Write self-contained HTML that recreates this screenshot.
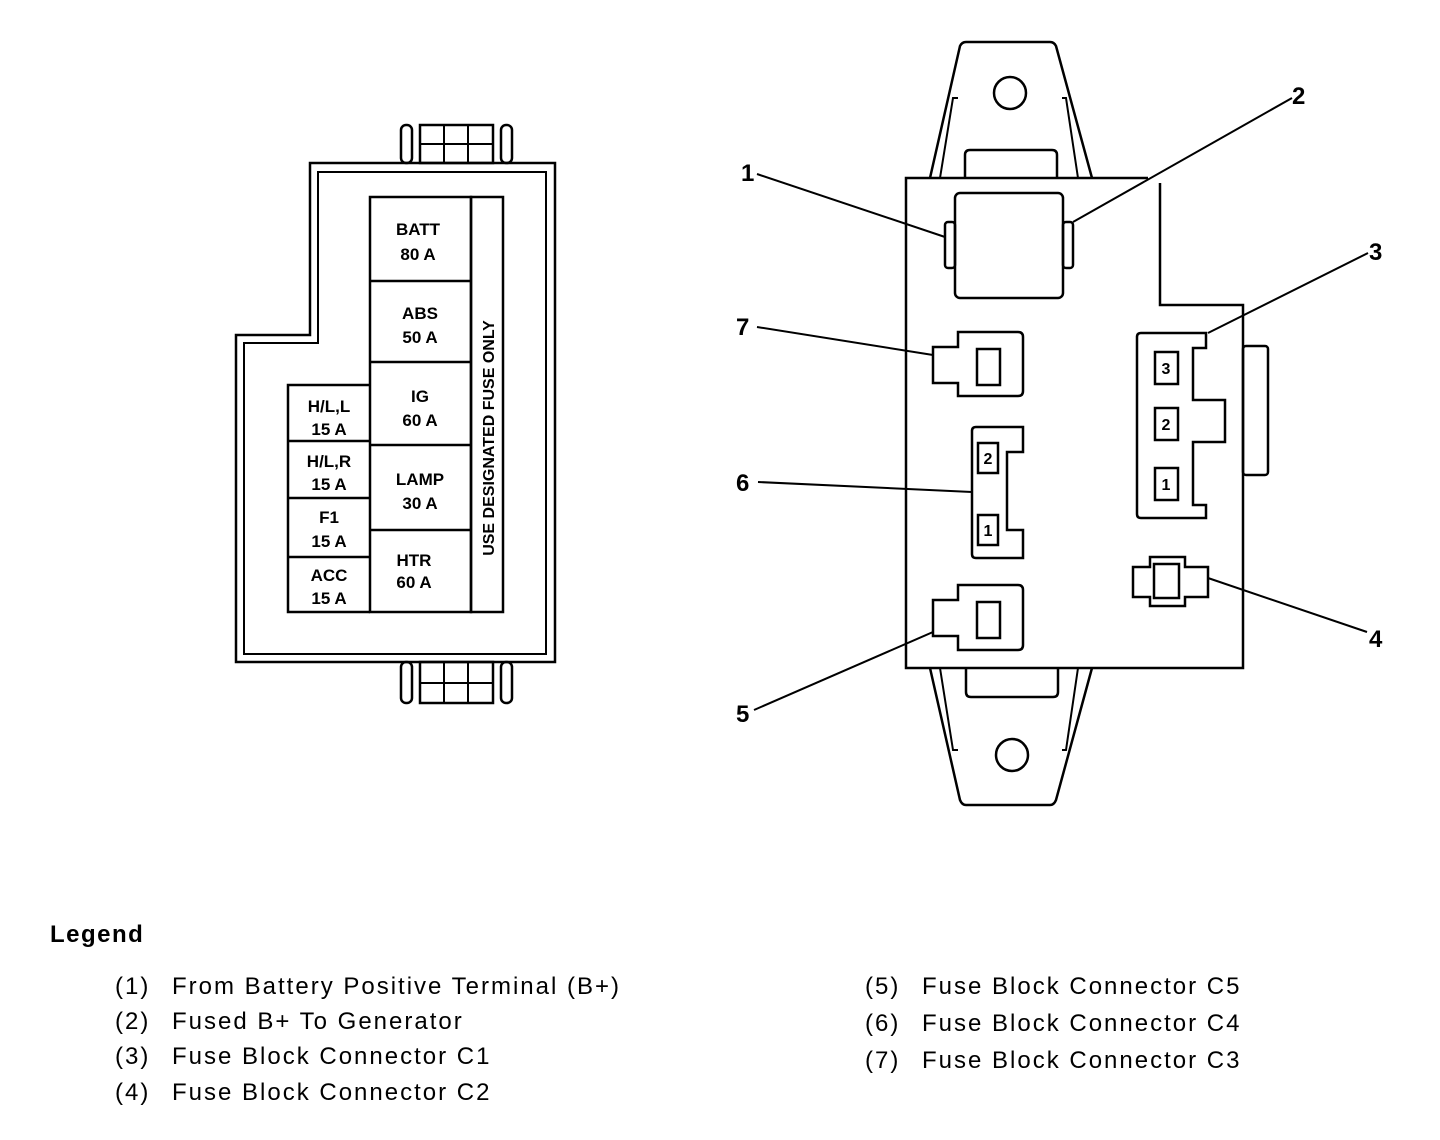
<!DOCTYPE html>
<html><head><style>
body{margin:0;background:#fff}
svg{display:block}
text{font-family:"Liberation Sans",Arial,sans-serif;fill:#000}
.f{font-weight:bold;font-size:17px;text-anchor:middle}
.l{font-size:24px;letter-spacing:2px}
</style></head><body>
<svg width="1440" height="1140" viewBox="0 0 1440 1140" xmlns="http://www.w3.org/2000/svg">
<g fill="none" stroke="#000" stroke-width="2.5">
<!-- left fuse block -->
<path d="M310 163H555V662H236V335H310Z"/>
<path d="M318 172H546V654H244V343H318Z" stroke-width="2"/>
<rect x="401" y="125" width="11" height="38" rx="5"/>
<rect x="501" y="125" width="11" height="38" rx="5"/>
<rect x="420" y="125" width="73" height="38"/>
<path d="M444 125V163M468 125V163M420 144H493" stroke-width="2"/>
<rect x="401" y="662" width="11" height="41" rx="5"/>
<rect x="501" y="662" width="11" height="41" rx="5"/>
<rect x="420" y="662" width="73" height="41"/>
<path d="M444 662V703M468 662V703M420 683H493" stroke-width="2"/>
<rect x="370" y="197" width="101" height="415"/>
<rect x="471" y="197" width="32" height="415"/>
<path d="M370 281H471M370 362H471M370 445H471M370 530H471"/>
<path d="M370 385H288V612H370M288 441H370M288 498H370M288 557H370"/>
</g>
<g class="f">
<text x="418" y="235">BATT</text><text x="418" y="260">80 A</text>
<text x="420" y="319">ABS</text><text x="420" y="343">50 A</text>
<text x="420" y="402">IG</text><text x="420" y="426">60 A</text>
<text x="420" y="485">LAMP</text><text x="420" y="509">30 A</text>
<text x="414" y="566">HTR</text><text x="414" y="588">60 A</text>
<text x="329" y="412">H/L,L</text><text x="329" y="435">15 A</text>
<text x="329" y="467">H/L,R</text><text x="329" y="490">15 A</text>
<text x="329" y="523">F1</text><text x="329" y="547">15 A</text>
<text x="329" y="581">ACC</text><text x="329" y="604">15 A</text>
<text transform="translate(494,438) rotate(-90)" font-size="16">USE DESIGNATED FUSE ONLY</text>
</g>
<!-- right fuse block -->
<g fill="none" stroke="#000" stroke-width="2.5">
<path d="M930 178L960 46Q962 42 966 42H1050Q1054 42 1056 46L1092 178"/>
<path d="M940 178L953 98H958M1078 178L1066 98H1062" stroke-width="2"/>
<ellipse cx="1010" cy="93" rx="16" ry="16"/>
<path d="M965 178V155Q965 150 970 150H1052Q1057 150 1057 155V178"/>
<path d="M930 668L960 800Q962 805 966 805H1050Q1054 805 1056 800L1092 668"/>
<path d="M940 668L953 750H958M1078 668L1066 750H1062" stroke-width="2"/>
<ellipse cx="1012" cy="755" rx="16" ry="16"/>
<path d="M966 668V692Q966 697 971 697H1053Q1058 697 1058 692V668"/>
<path d="M1148 178H906V668H1243V305H1160V183"/>
<rect x="1243" y="346" width="25" height="129" rx="3"/>
<rect x="955" y="193" width="108" height="105" rx="5"/>
<rect x="945" y="222" width="10" height="46" rx="3"/>
<rect x="1063" y="222" width="10" height="46" rx="3"/>
<path d="M958 332H1018Q1023 332 1023 337V391Q1023 396 1018 396H958V383H933V347H958Z"/>
<rect x="977" y="349" width="23" height="36"/>
<path d="M958 585H1018Q1023 585 1023 590V645Q1023 650 1018 650H958V636H933V600H958Z"/>
<rect x="977" y="602" width="23" height="36"/>
<path d="M976 427H1023V452H1007V530H1023V558H976Q972 558 972 554V431Q972 427 976 427Z"/>
<rect x="978" y="443" width="20" height="30"/>
<rect x="978" y="515" width="20" height="30"/>
<path d="M1141 333H1206V348H1193V400H1225V442H1193V505H1206V518H1141Q1137 518 1137 514V337Q1137 333 1141 333Z"/>
<rect x="1155" y="352" width="23" height="32"/>
<rect x="1155" y="408" width="23" height="32"/>
<rect x="1155" y="468" width="23" height="32"/>
<path d="M1150 557H1185V567H1208V597H1185V606H1150V597H1133V567H1150Z"/>
<rect x="1154" y="564" width="25" height="34"/>
</g>
<g stroke="#000" stroke-width="2">
<line x1="757" y1="174" x2="945" y2="237"/>
<line x1="1292" y1="98" x2="1073" y2="222"/>
<line x1="1368" y1="253" x2="1208" y2="333"/>
<line x1="1208" y1="578" x2="1367" y2="632"/>
<line x1="754" y1="710" x2="933" y2="632"/>
<line x1="758" y1="482" x2="972" y2="492"/>
<line x1="757" y1="327" x2="933" y2="355"/>
</g>
<g font-size="24" font-weight="bold">
<text x="741" y="181">1</text>
<text x="1292" y="104">2</text>
<text x="1369" y="260">3</text>
<text x="1369" y="647">4</text>
<text x="736" y="722">5</text>
<text x="736" y="491">6</text>
<text x="736" y="335">7</text>
</g>
<g font-size="16" font-weight="bold" text-anchor="middle">
<text x="988" y="464">2</text><text x="988" y="536">1</text>
<text x="1166" y="374">3</text><text x="1166" y="430">2</text><text x="1166" y="490">1</text>
</g>
<text x="50" y="942" font-size="24" font-weight="bold" letter-spacing="1.5">Legend</text>
<g class="l">
<text x="115" y="994">(1)</text><text x="172" y="994">From Battery Positive Terminal (B+)</text>
<text x="115" y="1029">(2)</text><text x="172" y="1029">Fused B+ To Generator</text>
<text x="115" y="1064">(3)</text><text x="172" y="1064">Fuse Block Connector C1</text>
<text x="115" y="1100">(4)</text><text x="172" y="1100">Fuse Block Connector C2</text>
<text x="865" y="994">(5)</text><text x="922" y="994">Fuse Block Connector C5</text>
<text x="865" y="1031">(6)</text><text x="922" y="1031">Fuse Block Connector C4</text>
<text x="865" y="1068">(7)</text><text x="922" y="1068">Fuse Block Connector C3</text>
</g>
</svg>
</body></html>
